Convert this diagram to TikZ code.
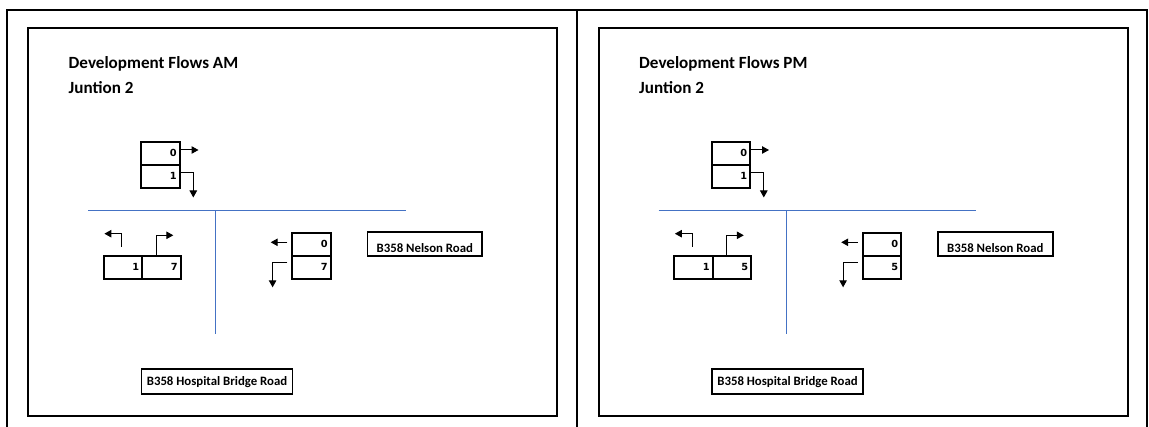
\documentclass[tikz,border=0pt]{standalone}
\usepackage{fontspec}
\setmainfont{Carlito}
\newfontfamily\numfont{DejaVu Sans}
\usetikzlibrary{arrows.meta}
\definecolor{roadblue}{RGB}{68,114,196}
\tikzset{
  cell/.style={draw, line width=1.8pt, outer sep=0pt, minimum height=23pt, text width=32.5pt,
    inner xsep=3pt, inner ysep=0pt, align=right, font=\numfont\bfseries\fontsize{9.8}{10}\selectfont},
  roadlabel/.style={draw, line width=1.8pt, outer sep=0pt, inner sep=0pt, text height=8pt, text depth=0pt,
    font=\bfseries\fontsize{12.8}{14}\selectfont},
  paneltitle/.style={anchor=west, inner sep=0pt, font=\bfseries\fontsize{17.1}{19}\selectfont},
  flow/.style={line width=1pt, -{Triangle[length=7pt,width=7.5pt]}},
  roadline/.style={roadblue, line width=1pt},
  boxline/.style={line width=2pt},
  outerline/.style={line width=2pt},
}
\newcommand{\drawpanel}[5]{%
\begin{scope}[xshift=#1pt, name prefix=#2-]
  \draw[boxline] (28.1,27.7) rectangle (557,415.7);
  \node[paneltitle] (title) at (68.5,64) {Development Flows #3};
  \node[paneltitle] (junc) at (68.5,88) {Juntion 2};
  % north arm
  \node[cell] (t0) at (160.5,153.2) {\raisebox{-2.8pt}{0}};
  \node[cell, anchor=north] (t1) at (t0.south) {\raisebox{-2.8pt}{1}};
  \coordinate (t0e) at (198.5,150);
  \draw[flow] (t0.east |- t0e) -- (t0e);
  \coordinate (t1k) at (193.3,173);
  \coordinate (t1e) at (193.3,197.5);
  \draw[flow] (t1.east |- t1k) -- (t1k) -- (t1e);
  % roads
  \coordinate (hw) at (88,211);
  \coordinate (he) at (405.6,211);
  \coordinate (vb) at (215.6,334);
  \draw[roadline] (hw) -- (he);
  \draw[roadline] (vb |- hw) -- (vb);
  % south-west approach
  \node[cell] (b1) at (123,267.3) {\raisebox{-2.8pt}{1}};
  \node[cell, anchor=west] (b2) at (b1.east) {\raisebox{-2.8pt}{#4}};
  \coordinate (lts) at (121.5,247);
  \coordinate (lte) at (104.4,233.7);
  \draw[flow] (lts) |- (lte);
  \coordinate (rte) at (173.3,235.3);
  \draw[flow] ([xshift=-5.3pt]b2.north) |- (rte);
  % east approach
  \node[cell] (r0) at (311.5,244.3) {\raisebox{-2.8pt}{0}};
  \node[cell, anchor=north] (r1) at (r0.south) {\raisebox{-2.8pt}{#5}};
  \coordinate (r0s) at (287.4,242.3);
  \coordinate (r0e) at (270.7,242.3);
  \draw[flow] (r0s) -- (r0e);
  \coordinate (r1s) at (287.4,262.7);
  \coordinate (r1e) at (272.6,287.3);
  \draw[flow] (r1s) -| (r1e);
  % road names
  \node[roadlabel, minimum width=114.8pt, minimum height=24pt] (nelson) at (424.8,244.3) {\raisebox{-4.5pt}{B358 Nelson Road}};
  \node[roadlabel, minimum width=151pt, minimum height=25pt] (hosp) at (217,381.8) {B358 Hospital Bridge Road};
\end{scope}}
\begin{document}
\begin{tikzpicture}[x=1pt, y=-1pt]
  \useasboundingbox (0,0) rectangle (1149,427);
  \fill[white] (0,0) rectangle (1149,427);
  \draw[outerline] (7,427) -- (7,10) -- (1147,10) -- (1147,427);
  \draw[outerline] (577,10) -- (577,427);
  \drawpanel{0}{L}{AM}{7}{7}
  \drawpanel{570.5}{R}{PM}{5}{5}
\end{tikzpicture}
\end{document}
